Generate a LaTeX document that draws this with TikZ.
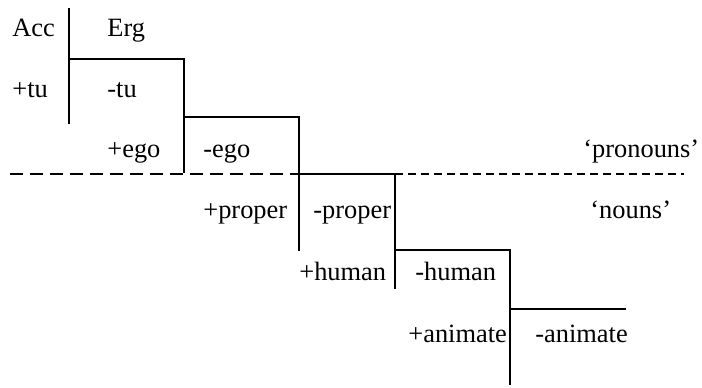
\documentclass[tikz,border=0pt]{standalone}
\usepackage{fontspec}
\setmainfont{Liberation Serif}
\begin{document}
\begin{tikzpicture}[x=0.5pt,y=-0.5pt,
  lbl/.style={anchor=base west,inner sep=0pt,font=\fontsize{13.2}{15}\selectfont},
  rule/.style={line width=1pt},
  longdash/.style={line width=1pt,dash pattern=on 6.5pt off 3.5pt},
  shortdash/.style={line width=1pt,dash pattern=on 4pt off 2.5pt}]
\useasboundingbox (0,0) rectangle (702,387);
% staircase corners
\coordinate (v1t) at (69,8);   \coordinate (v1b) at (69,124);
\coordinate (h1l) at (69,59);  \coordinate (v2b) at (184,173);
\coordinate (h2l) at (184,117); \coordinate (v3b) at (299,251);
\coordinate (h3l) at (299,174); \coordinate (v4b) at (395,289);
\coordinate (h4l) at (395,250); \coordinate (v5b) at (510,385);
\coordinate (h5l) at (510,309); \coordinate (h5r) at (626,309);
\coordinate (dl) at (10,174);  \coordinate (dm) at (299,174);
\coordinate (dn) at (395,174); \coordinate (dr) at (684,174);
% dashed divider
\draw[longdash] (dl) -- (dm);
\draw[shortdash] (dn) -- (dr);
% solid lines
\draw[rule] (v1t) -- (v1b);
\draw[rule] (h1l) -| (v2b);
\draw[rule] (h2l) -| (v3b);
\draw[rule] (h3l) -| (v4b);
\draw[rule] (h4l) -| (v5b);
\draw[rule] (h5l) -- (h5r);
% labels
\node[lbl] (acc) at (12,36) {Acc};
\node[lbl] (erg) at (107,36) {Erg};
\node[lbl] (ptu) at (12,97) {+tu};
\node[lbl] (mtu) at (107,97) {-tu};
\node[lbl] (pego) at (107,157) {+ego};
\node[lbl] (mego) at (203,157) {-ego};
\node[lbl] (pron) at (583,157) {`pronouns'};
\node[lbl] (pprop) at (203,218) {+proper};
\node[lbl] (mprop) at (313,218) {-proper};
\node[lbl] (nouns) at (590,218) {`nouns'};
\node[lbl] (phum) at (299,280) {+human};
\node[lbl] (mhum) at (415,280) {-human};
\node[lbl] (pani) at (408,342) {+animate};
\node[lbl] (mani) at (535,342) {-animate};
\end{tikzpicture}
\end{document}
